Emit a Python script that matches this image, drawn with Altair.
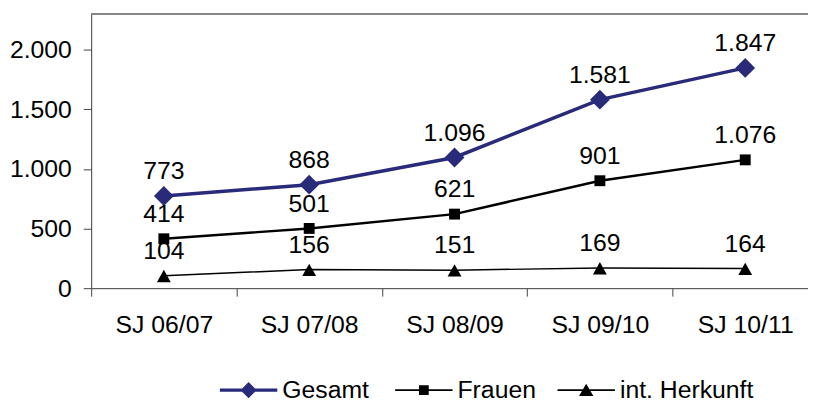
import altair as alt
import pandas as pd

# ---- data ----
years = ["SJ 06/07", "SJ 07/08", "SJ 08/09", "SJ 09/10", "SJ 10/11"]
gesamt = [773, 868, 1096, 1581, 1847]
frauen = [414, 501, 621, 901, 1076]
herkunft = [104, 156, 151, 169, 164]
series_names = ["Gesamt", "Frauen", "int. Herkunft"]
y_ticks = [0, 500, 1000, 1500, 2000]
y_max = 2300

rows = []
for name, vals in zip(series_names, [gesamt, frauen, herkunft]):
    for yr, v in zip(years, vals):
        rows.append({"Jahr": yr, "Serie": name, "Wert": v})
df = pd.DataFrame(rows)

FONT = "Liberation Sans"
colors = ["#2A2A7A", "#000000", "#000000"]
line_widths = [3.5, 1.5, 1.5]
marker_paths = [
    "M0,-1L1,0L0,1L-1,0Z",
    "M-0.55,-0.55H0.55V0.55H-0.55Z",
    "M0,-0.6L0.7,0.65L-0.7,0.65Z",
]
legend_paths = [
    "M-1,-0.06H1V0.06H-1Z M0,-0.28L0.28,0L0,0.28L-0.28,0Z",
    "M-1,-0.03H1V0.03H-1Z M-0.17,-0.17H0.17V0.17H-0.17Z",
    "M-1,-0.03H1V0.03H-1Z M0,-0.22L0.25,0.2L-0.25,0.2Z",
]
legend_x = [130, 307, 471]

fmt = "replace(format(datum.value, ','), ',', '.')"

x_enc = alt.X(
    "Jahr:N",
    sort=years,
    scale=alt.Scale(type="band", range=[0, 734], paddingInner=0, paddingOuter=0),
    axis=alt.Axis(
        title=None, labelAngle=0, tickBand="extent", tickSize=8, labelPadding=17,
        labelFontSize=25, labelFont=FONT, labelColor="#000000",
        domainColor="#444444", tickColor="#444444", grid=False,
    ),
)
y_enc = alt.Y(
    "Wert:Q",
    scale=alt.Scale(domain=[0, y_max], nice=False, zero=True),
    axis=alt.Axis(
        title=None, values=y_ticks, labelExpr=fmt, tickSize=8, labelPadding=12,
        labelFontSize=25, labelFont=FONT, labelColor="#000000",
        domainColor="#444444", tickColor="#444444", grid=False,
    ),
)

base = alt.Chart(df)

border = base.mark_rule(color="#888888", strokeWidth=1).encode(y=alt.datum(y_max))

lines = base.mark_line().encode(
    x=x_enc,
    y=y_enc,
    stroke=alt.Stroke("Serie:N", scale=alt.Scale(domain=series_names, range=colors), legend=None),
    strokeWidth=alt.StrokeWidth("Serie:N", scale=alt.Scale(domain=series_names, range=line_widths), legend=None),
)

points = base.mark_point(filled=True, size=400, opacity=1).encode(
    x=x_enc,
    y=y_enc,
    fill=alt.Fill("Serie:N", scale=alt.Scale(domain=series_names, range=colors), legend=None),
    shape=alt.Shape("Serie:N", scale=alt.Scale(domain=series_names, range=marker_paths), legend=None),
)

legend_layers = []
for name, col, path, lx in zip(series_names, colors, legend_paths, legend_x):
    leg = alt.Legend(
        orient="none", legendX=lx, legendY=351, direction="horizontal",
        title=None, symbolType=path, symbolSize=3364, symbolStrokeWidth=0,
        symbolOpacity=1, symbolFillColor=col, symbolStrokeColor=col,
        labelFontSize=25, labelFont=FONT, labelColor="#000000", labelOffset=5,
        padding=0, labelLimit=300,
    )
    legend_layers.append(
        base.transform_filter(alt.datum.Serie == name)
        .mark_point(filled=True, opacity=0)
        .encode(
            x=x_enc,
            y=y_enc,
            color=alt.Color("Serie:N", scale=alt.Scale(domain=[name], range=[col]), legend=leg),
        )
    )

labels = base.mark_text(
    dy=-17, fontSize=25, font=FONT, color="#000000", baseline="alphabetic", align="center"
).encode(
    x=x_enc,
    y=y_enc,
    text=alt.Text("label:N"),
).transform_calculate(label="replace(format(datum.Wert, ','), ',', '.')")

chart = (
    alt.layer(border, lines, points, *legend_layers, labels)
    .resolve_scale(color="independent")
    .properties(
        width=724,
        height=277,
        autosize=alt.AutoSizeParams(type="none"),
        padding={"left": 84, "top": 4, "right": 0, "bottom": 113},
    )
    .configure_view(stroke=None)
    .configure(background="#ffffff")
)

chart.save("out.html", embed_options={"renderer": "svg", "actions": False})
